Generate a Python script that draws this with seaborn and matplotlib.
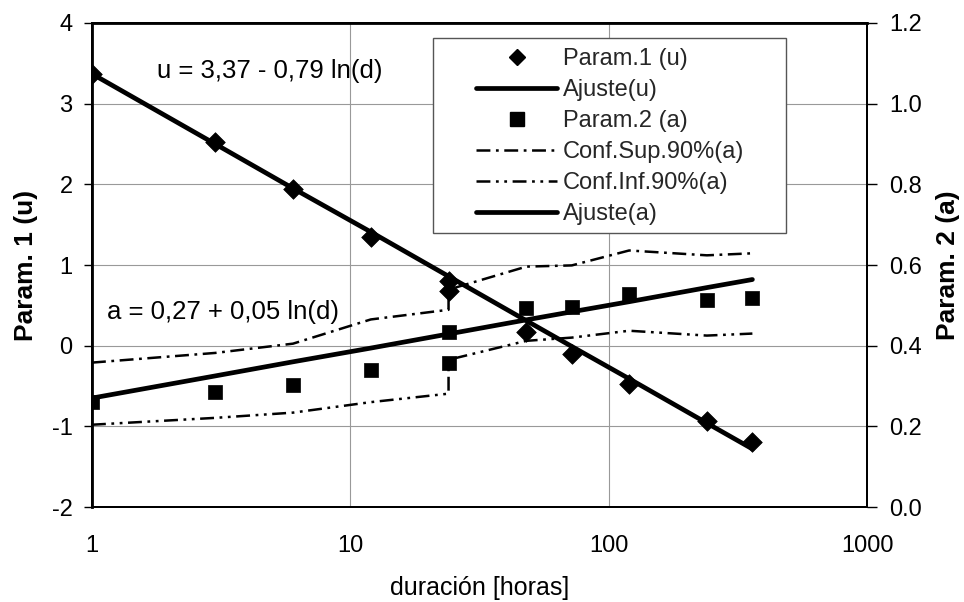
import numpy as np
import pandas as pd
import matplotlib
matplotlib.use("Agg")
import matplotlib.pyplot as plt
import seaborn as sns
from matplotlib.patches import Rectangle
from matplotlib.lines import Line2D

# ---------------- data ----------------
dur = [1, 3, 6, 12, 24, 24, 48, 72, 120, 240, 360]
param_u = [3.37, 2.53, 1.94, 1.35, 0.68, 0.80, 0.17, -0.10, -0.48, -0.94, -1.19]
param_a = [0.261, 0.286, 0.302, 0.340, 0.357, 0.435, 0.494, 0.497, 0.529, 0.514, 0.519]
conf_sup = [0.358, 0.382, 0.405, 0.465, 0.489, 0.539, 0.596, 0.599, 0.636, 0.624, 0.629]
conf_inf = [0.204, 0.221, 0.234, 0.260, 0.281, 0.365, 0.412, 0.420, 0.437, 0.425, 0.430]

fit_dur = [1, 3, 6, 12, 24, 48, 72, 120, 240, 360]
fit_u = [3.37, 2.50, 1.95, 1.41, 0.86, 0.31, -0.01, -0.41, -0.96, -1.28]
fit_a = [0.27, 0.325, 0.360, 0.394, 0.429, 0.464, 0.484, 0.509, 0.544, 0.564]

labels = ["Param.1 (u)", "Ajuste(u)", "Param.2 (a)",
          "Conf.Sup.90%(a)", "Conf.Inf.90%(a)", "Ajuste(a)"]
eq_u = "u = 3,37 - 0,79 ln(d)"
eq_a = "a = 0,27 + 0,05 ln(d)"
xlabel = "duración [horas]"
ylabel_l = "Param. 1 (u)"
ylabel_r = "Param. 2 (a)"

# ---------------- style ----------------
sns.set_theme(style="white")
plt.rcParams["font.family"] = ["Liberation Sans", "DejaVu Sans"]
plt.rcParams["lines.scale_dashes"] = False

fig = plt.figure(figsize=(9.64, 6.02), dpi=100)
ax = fig.add_axes([0.0954, 0.1578, 0.804, 0.804])
ax2 = ax.twinx()

FS = 17
SUP_DASH = (0, (10, 4, 2, 4))
INF_DASH = (0, (10, 4, 2, 4, 2, 4))
CONF_LW = 1.8

# left axis: u
sns.lineplot(x=fit_dur, y=fit_u, ax=ax, color="black", lw=3.4,
             estimator=None, sort=False, legend=False)
sns.scatterplot(x=dur, y=param_u, ax=ax, marker="D", s=100, color="black",
                edgecolor="black", linewidth=0.5, legend=False, zorder=3)

# right axis: a
sns.lineplot(x=fit_dur, y=fit_a, ax=ax2, color="black", lw=3.4,
             estimator=None, sort=False, legend=False)
sns.lineplot(x=dur, y=conf_sup, ax=ax2, color="black", lw=CONF_LW,
             estimator=None, sort=False, legend=False)
ax2.lines[-1].set_linestyle(SUP_DASH)
sns.lineplot(x=dur, y=conf_inf, ax=ax2, color="black", lw=CONF_LW,
             estimator=None, sort=False, legend=False)
ax2.lines[-1].set_linestyle(INF_DASH)
sns.scatterplot(x=dur, y=param_a, ax=ax2, marker="s", s=115, color="black",
                edgecolor="black", linewidth=0.5, legend=False, zorder=3)

# axes config
ax.set_xscale("log")
ax.set_xlim(1, 1000)
ax.set_ylim(-2, 4)
ax2.set_ylim(0, 1.2)
ax.set_xticks([1, 10, 100, 1000])
ax.set_xticklabels(["1", "10", "100", "1000"])
ax.xaxis.set_minor_locator(matplotlib.ticker.NullLocator())
ax.set_yticks([-2, -1, 0, 1, 2, 3, 4])
ax.set_yticklabels(["-2", "-1", "0", "1", "2", "3", "4"])
ax2.set_yticks([0, 0.2, 0.4, 0.6, 0.8, 1.0, 1.2])
ax2.set_yticklabels(["0.0", "0.2", "0.4", "0.6", "0.8", "1.0", "1.2"])

ax.grid(True, which="major", color="#999999", lw=0.8)
ax2.grid(False)

ax.tick_params(axis="x", length=0, pad=20, labelsize=FS, colors="black")
ax.tick_params(axis="y", direction="out", length=6, width=1, pad=8,
               labelsize=FS, colors="black", left=True)
ax2.tick_params(axis="y", direction="out", length=7, width=1, pad=9,
                labelsize=FS, colors="black", right=True)

for a_ in (ax, ax2):
    for sp in a_.spines.values():
        sp.set_color("black")
        sp.set_linewidth(1.4)
ax.spines["left"].set_linewidth(2)
ax.spines["top"].set_linewidth(2)

ax.set_xlabel(xlabel, fontsize=18, labelpad=14, color="black")
ax.set_ylabel(ylabel_l, fontsize=19, fontweight="bold", labelpad=10, color="black")
ax2.set_ylabel(ylabel_r, fontsize=19, fontweight="bold", labelpad=10, color="black")

# equations
ax.text(1.785, 3.40, eq_u, fontsize=18.5, va="center", ha="left", color="black")
ax.text(1.143, 0.42, eq_a, fontsize=18.5, va="center", ha="left", color="black")

# legend box
rect = Rectangle((0.44, 0.566), 0.455, 0.404, transform=ax2.transAxes,
                 facecolor="white", edgecolor="#555555", lw=1.0, zorder=4.5)
ax2.add_patch(rect)

handles = [
    Line2D([], [], marker="D", ls="none", color="black", ms=8),
    Line2D([], [], color="black", lw=3.4),
    Line2D([], [], marker="s", ls="none", color="black", ms=9.5),
    Line2D([], [], color="black", lw=CONF_LW, ls=SUP_DASH),
    Line2D([], [], color="black", lw=CONF_LW, ls=INF_DASH),
    Line2D([], [], color="black", lw=3.4),
]
leg = ax2.legend(handles, labels, loc="upper left",
                 bbox_to_anchor=(0.49, 0.958), frameon=False,
                 fontsize=FS, handlelength=3.4, handletextpad=0.25,
                 labelspacing=0.38, borderpad=0.2, borderaxespad=0)
leg.set_zorder(6)

fig.savefig("out.png", dpi=100)
